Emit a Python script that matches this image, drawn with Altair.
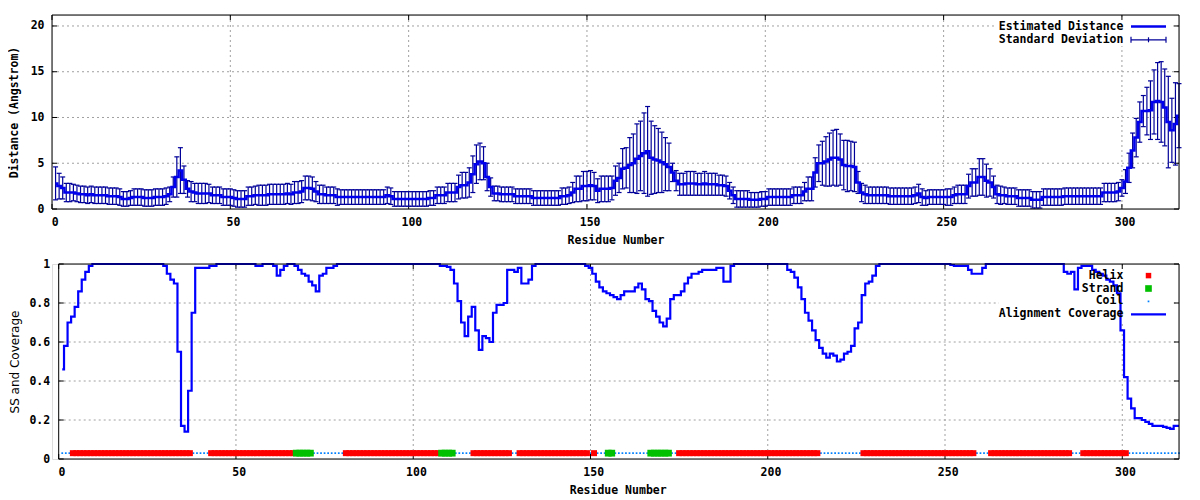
import altair as alt
import pandas as pd

# ---------------- data ----------------
RESIDUES = list(range(1, 317))

DISTANCE = [
    2.8, 2.5, 2.3, 1.8, 1.8, 1.8, 1.7, 1.6, 1.6, 1.5,
    1.6, 1.5, 1.5, 1.5, 1.5, 1.4, 1.4, 1.4, 1.3, 1.1,
    1.1, 1.2, 1.3, 1.3, 1.3, 1.2, 1.2, 1.2, 1.3, 1.3,
    1.3, 1.4, 1.6, 2.4, 3.5, 4.2, 3.2, 2.2, 1.9, 1.8,
    1.7, 1.7, 1.7, 1.7, 1.5, 1.5, 1.5, 1.3, 1.3, 1.3,
    1.2, 1.1, 1.1, 1.1, 1.4, 1.4, 1.5, 1.5, 1.5, 1.5,
    1.6, 1.6, 1.6, 1.6, 1.6, 1.7, 1.6, 1.8, 1.8, 1.9,
    2.3, 2.3, 2.2, 1.9, 1.6, 1.6, 1.5, 1.5, 1.5, 1.3,
    1.3, 1.3, 1.3, 1.3, 1.3, 1.3, 1.3, 1.3, 1.3, 1.3,
    1.3, 1.3, 1.3, 1.5, 1.4, 1.1, 1.1, 1.1, 1.1, 1.1,
    1.1, 1.1, 1.1, 1.1, 1.1, 1.2, 1.2, 1.5, 1.5, 1.5,
    1.8, 1.8, 1.8, 2.4, 2.6, 2.6, 2.9, 3.8, 4.9, 5.2,
    5.0, 3.5, 2.4, 1.7, 1.7, 1.6, 1.6, 1.6, 1.6, 1.4,
    1.4, 1.4, 1.4, 1.4, 1.2, 1.2, 1.2, 1.2, 1.2, 1.2,
    1.2, 1.2, 1.4, 1.4, 1.5, 1.8, 2.2, 2.2, 2.5, 2.5,
    2.6, 2.5, 2.0, 2.2, 2.2, 2.2, 2.3, 3.1, 3.4, 4.4,
    4.5, 4.8, 5.0, 5.5, 5.8, 6.1, 6.3, 5.6, 5.4, 5.3,
    5.1, 4.9, 4.6, 4.0, 3.1, 2.7, 2.7, 2.8, 2.8, 2.8,
    2.7, 2.7, 2.8, 2.7, 2.7, 2.7, 2.6, 2.6, 2.5, 2.0,
    1.5, 1.1, 1.1, 1.1, 1.1, 1.0, 1.0, 1.0, 1.1, 1.1,
    1.3, 1.3, 1.3, 1.3, 1.3, 1.3, 1.3, 1.5, 1.5, 1.5,
    1.9, 2.2, 2.2, 4.0, 5.0, 5.0, 5.2, 5.4, 5.6, 5.6,
    5.4, 4.8, 4.7, 4.7, 4.6, 2.9, 1.8, 1.6, 1.5, 1.5,
    1.5, 1.5, 1.5, 1.5, 1.4, 1.4, 1.4, 1.4, 1.4, 1.4,
    1.4, 1.5, 1.7, 1.3, 1.2, 1.3, 1.3, 1.3, 1.3, 1.3,
    1.3, 1.3, 1.5, 1.6, 1.6, 1.6, 2.5, 2.9, 2.9, 3.5,
    3.5, 3.1, 2.9, 2.4, 1.6, 1.5, 1.5, 1.4, 1.4, 1.4,
    1.2, 1.2, 1.2, 1.2, 1.0, 1.0, 1.0, 1.3, 1.3, 1.3,
    1.3, 1.3, 1.3, 1.4, 1.4, 1.4, 1.4, 1.4, 1.4, 1.4,
    1.4, 1.4, 1.4, 1.4, 1.8, 1.8, 1.8, 1.8, 1.9, 2.3,
    3.0, 4.5, 6.4, 7.8, 9.5, 10.7, 10.7, 10.8, 11.7, 11.8,
    11.7, 11.1, 9.5, 8.6, 9.3, 10.2,
]

STD_DEV = [
    1.8, 1.4, 1.2, 1.0, 1.0, 0.9, 0.9, 0.9, 0.9, 0.9,
    0.9, 0.9, 0.9, 0.9, 0.9, 0.9, 0.9, 0.9, 0.9, 0.8,
    0.8, 0.8, 0.9, 0.9, 0.9, 0.9, 0.9, 0.9, 0.9, 0.9,
    0.9, 0.9, 0.8, 1.1, 2.2, 2.5, 1.5, 0.9, 1.1, 1.0,
    1.1, 1.1, 1.1, 1.0, 0.9, 0.9, 0.9, 0.9, 0.9, 0.9,
    0.9, 0.9, 0.9, 0.9, 1.0, 1.0, 1.0, 1.1, 1.1, 1.1,
    1.1, 1.1, 1.1, 1.1, 1.1, 1.1, 1.1, 1.2, 1.2, 1.2,
    1.3, 1.3, 1.3, 1.1, 1.0, 1.0, 0.9, 0.9, 0.9, 0.9,
    0.8, 0.8, 0.8, 0.8, 0.8, 0.8, 0.8, 0.8, 0.8, 0.8,
    0.8, 0.8, 0.8, 0.9, 0.9, 0.8, 0.8, 0.8, 0.8, 0.8,
    0.8, 0.8, 0.8, 0.8, 0.8, 0.8, 0.8, 0.9, 0.9, 0.9,
    1.0, 1.0, 1.0, 1.3, 1.4, 1.4, 1.6, 2.0, 2.1, 2.0,
    1.8, 1.5, 1.0, 0.8, 0.8, 0.8, 0.8, 0.8, 0.8, 0.8,
    0.8, 0.8, 0.8, 0.8, 0.8, 0.8, 0.8, 0.8, 0.8, 0.8,
    0.8, 0.8, 0.9, 0.9, 0.9, 1.1, 1.4, 1.4, 1.6, 1.6,
    1.6, 1.5, 1.3, 1.4, 1.4, 1.4, 1.3, 1.6, 1.6, 2.2,
    2.2, 3.0, 3.2, 3.8, 3.8, 4.4, 4.9, 4.0, 3.7, 3.5,
    3.3, 2.9, 2.6, 1.0, 1.1, 1.2, 1.2, 1.3, 1.3, 1.3,
    1.2, 1.2, 1.3, 1.2, 1.2, 1.2, 1.1, 1.1, 1.1, 0.9,
    0.9, 0.9, 0.9, 0.9, 0.9, 0.8, 0.8, 0.8, 0.8, 0.8,
    0.9, 0.9, 0.9, 0.9, 0.9, 0.9, 0.9, 0.9, 0.9, 0.9,
    1.0, 1.3, 1.3, 1.6, 2.0, 2.4, 2.7, 2.9, 3.0, 3.1,
    2.8, 2.7, 2.8, 2.7, 2.7, 1.2, 1.0, 1.0, 0.9, 0.9,
    0.9, 0.9, 0.9, 0.9, 0.9, 0.9, 0.9, 0.9, 0.9, 0.9,
    0.9, 0.9, 1.0, 0.9, 0.8, 0.8, 0.8, 0.8, 0.8, 0.8,
    0.9, 0.9, 0.9, 1.0, 1.0, 1.0, 1.3, 1.5, 1.5, 2.0,
    2.0, 1.8, 1.5, 1.2, 1.0, 1.0, 0.9, 0.9, 0.9, 0.9,
    0.9, 0.9, 0.9, 0.9, 0.9, 0.9, 0.9, 0.9, 0.9, 0.9,
    0.9, 0.9, 0.9, 0.9, 0.9, 0.9, 0.9, 0.9, 0.9, 0.9,
    0.9, 0.9, 0.9, 0.9, 1.0, 1.0, 1.0, 1.0, 1.0, 0.9,
    1.3, 1.6, 1.9, 2.1, 2.2, 1.7, 2.6, 3.2, 3.5, 4.2,
    4.4, 4.2, 5.0, 3.5, 4.5, 3.5,
]

COVERAGE = [
    0.46, 0.58, 0.70, 0.73, 0.78, 0.86, 0.92, 0.96, 0.99, 1.0,
    1.0, 1.0, 1.0, 1.0, 1.0, 1.0, 1.0, 1.0, 1.0, 1.0,
    1.0, 1.0, 1.0, 1.0, 1.0, 1.0, 1.0, 1.0, 1.0, 0.99,
    0.95, 0.92, 0.90, 0.55, 0.17, 0.14, 0.35, 0.75, 0.98, 0.98,
    0.98, 0.98, 0.99, 0.99, 1.0, 1.0, 1.0, 1.0, 1.0, 1.0,
    1.0, 1.0, 1.0, 1.0, 1.0, 0.99, 0.99, 1.0, 1.0, 1.0,
    0.99, 0.94, 0.97, 0.99, 1.0, 1.0, 0.99, 0.97, 0.95, 0.94,
    0.91, 0.89, 0.86, 0.94, 0.95, 0.98, 0.98, 0.99, 1.0, 1.0,
    1.0, 1.0, 1.0, 1.0, 1.0, 1.0, 1.0, 1.0, 1.0, 1.0,
    1.0, 1.0, 1.0, 1.0, 1.0, 1.0, 1.0, 1.0, 1.0, 1.0,
    1.0, 1.0, 1.0, 1.0, 1.0, 1.0, 1.0, 0.99, 0.99, 0.985,
    0.97, 0.90, 0.81, 0.70, 0.63, 0.73, 0.78, 0.66, 0.56, 0.63,
    0.62, 0.60, 0.75, 0.79, 0.79, 0.80, 0.97, 0.97, 0.96, 0.98,
    0.90, 0.90, 0.92, 0.99, 1.0, 1.0, 1.0, 1.0, 1.0, 1.0,
    1.0, 1.0, 1.0, 1.0, 1.0, 1.0, 1.0, 1.0, 0.99, 0.98,
    0.95, 0.91, 0.88, 0.86, 0.85, 0.84, 0.83, 0.82, 0.84, 0.86,
    0.86, 0.86, 0.88, 0.90, 0.87, 0.82, 0.81, 0.76, 0.73, 0.70,
    0.68, 0.72, 0.82, 0.84, 0.84, 0.86, 0.90, 0.93, 0.95, 0.95,
    0.96, 0.97, 0.97, 0.97, 0.97, 0.98, 0.98, 0.91, 0.91, 0.99,
    1.0, 1.0, 1.0, 1.0, 1.0, 1.0, 1.0, 1.0, 1.0, 1.0,
    1.0, 1.0, 1.0, 1.0, 1.0, 0.97, 0.96, 0.93, 0.88, 0.82,
    0.75, 0.71, 0.66, 0.61, 0.57, 0.54, 0.52, 0.54, 0.53, 0.50,
    0.51, 0.54, 0.55, 0.58, 0.67, 0.70, 0.84, 0.90, 0.91, 0.94,
    0.99, 1.0, 1.0, 1.0, 1.0, 1.0, 1.0, 1.0, 1.0, 1.0,
    1.0, 1.0, 1.0, 1.0, 1.0, 1.0, 1.0, 1.0, 1.0, 1.0,
    1.0, 0.995, 0.99, 0.99, 0.99, 0.99, 0.97, 0.95, 0.95, 0.95,
    0.98, 1.0, 1.0, 1.0, 1.0, 1.0, 1.0, 1.0, 1.0, 1.0,
    1.0, 1.0, 1.0, 1.0, 1.0, 1.0, 1.0, 1.0, 1.0, 1.0,
    1.0, 1.0, 1.0, 0.96, 0.95, 0.96, 0.87, 0.98, 0.99, 0.99,
    0.99, 0.97, 0.96, 0.95, 0.94, 0.92, 0.91, 0.89, 0.85, 0.66,
    0.42, 0.31, 0.26, 0.21, 0.21, 0.20, 0.19, 0.18, 0.17, 0.17,
    0.17, 0.165, 0.16, 0.155, 0.17, 0.17,
]

HELIX_SEGMENTS = [(4, 37), (43, 66), (81, 107), (117, 127), (130, 149), (151, 151),
                  (175, 214), (227, 258), (263, 285), (289, 301)]
STRAND_SEGMENTS = [(67, 71), (108, 111), (155, 156), (167, 172)]
SS_LEVEL = 0.03

X_TICKS = [0, 50, 100, 150, 200, 250, 300]
X_GRID = [50, 100, 150, 200, 250, 300]
TOP_Y_TICKS = [0, 5, 10, 15, 20]
TOP_Y_GRID = [5, 10, 15, 20]
BOT_Y_TICKS = [0, 0.2, 0.4, 0.6, 0.8, 1]
BOT_Y_GRID = [0.2, 0.4, 0.6, 0.8]
TOP_LEGEND = ["Estimated Distance", "Standard Deviation"]
BOT_LEGEND = ["Helix", "Strand", "Coil", "Alignment Coverage"]
X_TITLE = "Residue Number"
TOP_Y_TITLE = "Distance (Angstrom)"
BOT_Y_TITLE = "SS and Coverage"

# ---------------- tables ----------------
dist_df = pd.DataFrame({"res": RESIDUES, "dist": DISTANCE, "sd": STD_DEV})
dist_df["lo"] = (dist_df["dist"] - dist_df["sd"]).clip(lower=0)
dist_df["hi"] = dist_df["dist"] + dist_df["sd"]

cov_df = pd.DataFrame({"res": RESIDUES, "cov": COVERAGE})

ss = ["Coil"] * len(RESIDUES)
for a, b in HELIX_SEGMENTS:
    for r in range(a, b + 1):
        ss[r - 1] = "Helix"
for a, b in STRAND_SEGMENTS:
    for r in range(a, b + 1):
        ss[r - 1] = "Strand"
ss_df = pd.DataFrame({"res": RESIDUES, "ss": ss, "level": [SS_LEVEL] * len(RESIDUES)})

one = pd.DataFrame({"k": [0]})

# ---------------- style ----------------
MONO = "DejaVu Sans Mono"
FS = 11.5
W = 1127
HT = 194
HB = 195
BOT_X0 = 6.7
GRID_COLOR = "#a0a0a0"
LINE_BLUE = "#0000ee"
BAR_NAVY = "#000099"


def x_axis(title_x):
    return alt.Axis(values=X_TICKS, grid=False, domain=False, ticks=False, tickSize=0,
                    labelFont=MONO, labelFontWeight="bold", labelFontSize=FS,
                    labelColor="black", labelPadding=13.7, labelBaseline="middle",
                    labelOffset=2.7, labelFlush=False, labelOverlap=False,
                    title=X_TITLE, titleFont=MONO, titleFontWeight="bold",
                    titleFontSize=FS, titleColor="black", titleX=title_x,
                    titleY=31.7, titleBaseline="middle", titleAlign="center")


AX_X_TOP = x_axis(563.5)
AX_X_BOT = x_axis(565.7)

AX_Y_TOP = alt.Axis(values=TOP_Y_TICKS, grid=False, domain=False, ticks=False, tickSize=0,
                    labelFont=MONO, labelFontWeight="bold", labelFontSize=FS,
                    labelColor="black", labelPadding=8, labelFlush=False,
                    labelOverlap=False, title=TOP_Y_TITLE, titleFont=MONO,
                    titleFontWeight="bold", titleFontSize=FS, titleColor="black",
                    titleAngle=270, titleX=-37.5, titleY=HT / 2,
                    titleBaseline="middle", titleAlign="center")

AX_Y_BOT = alt.Axis(values=BOT_Y_TICKS, format="~g", grid=False, domain=False, ticks=False,
                    tickSize=0, labelFont=MONO, labelFontWeight="bold", labelFontSize=FS,
                    labelColor="black", labelPadding=2.3, labelFlush=False,
                    labelOverlap=False, title=BOT_Y_TITLE, titleFont="DejaVu Sans",
                    titleFontWeight="normal", titleFontSize=12, titleColor="black",
                    titleAngle=270, titleX=-37.5, titleY=HB / 2,
                    titleBaseline="middle", titleAlign="center")

XS_TOP = alt.Scale(domain=[0, 316], nice=False, zero=False)
YS_TOP = alt.Scale(domain=[0, 21.2], nice=False, zero=False)
XS_BOT = alt.Scale(domain=[0, 316], nice=False, zero=False, range=[BOT_X0, W])
YS_BOT = alt.Scale(domain=[0, 1], nice=False, zero=False)


def xt(field):
    return alt.X(field, scale=XS_TOP, axis=AX_X_TOP)


def yt(field):
    return alt.Y(field, scale=YS_TOP, axis=AX_Y_TOP)


def xb(field):
    return alt.X(field, scale=XS_BOT, axis=AX_X_BOT)


def yb(field):
    return alt.Y(field, scale=YS_BOT, axis=AX_Y_BOT)


dash = dict(stroke=GRID_COLOR, strokeWidth=1, strokeDash=[2, 3])

# ---------------- top panel ----------------
xg_top = pd.DataFrame({"v": X_GRID})
yg_top = pd.DataFrame({"v": TOP_Y_GRID})
xt_df = pd.DataFrame({"v": X_TICKS})
yt_top_df = pd.DataFrame({"v": TOP_Y_TICKS})

top_layers = [
    alt.Chart(xg_top).mark_rule(**dash).encode(x=xt("v:Q"), y=alt.value(0), y2=alt.value(HT)),
    alt.Chart(yg_top).mark_rule(**dash).encode(y=yt("v:Q"), x=alt.value(0), x2=alt.value(W)),
    alt.Chart(one).mark_rect(color="white").encode(
        x=alt.value(944), x2=alt.value(1121), y=alt.value(4), y2=alt.value(31)),
    # inward ticks
    alt.Chart(xt_df).mark_rule(color="black").encode(x=xt("v:Q"), y=alt.value(HT), y2=alt.value(HT - 5)),
    alt.Chart(xt_df).mark_rule(color="black").encode(x=xt("v:Q"), y=alt.value(0), y2=alt.value(5)),
    alt.Chart(yt_top_df).mark_rule(color="black").encode(y=yt("v:Q"), x=alt.value(0), x2=alt.value(5)),
    alt.Chart(yt_top_df).mark_rule(color="black").encode(y=yt("v:Q"), x=alt.value(W - 5), x2=alt.value(W)),
    # error bars
    alt.Chart(dist_df).mark_rule(color=BAR_NAVY, strokeWidth=1.2).encode(
        x=xt("res:Q"), y=yt("lo:Q"), y2="hi:Q"),
    alt.Chart(dist_df).mark_rule(color=BAR_NAVY, strokeWidth=1.2, xOffset=-2.5, x2Offset=2.5).encode(
        x=xt("res:Q"), x2="res:Q", y=yt("hi:Q")),
    alt.Chart(dist_df).mark_rule(color=BAR_NAVY, strokeWidth=1.2, xOffset=-2.5, x2Offset=2.5).encode(
        x=xt("res:Q"), x2="res:Q", y=yt("lo:Q")),
    # distance line
    alt.Chart(dist_df).mark_line(color=LINE_BLUE, strokeWidth=2.5, interpolate="step").encode(
        x=xt("res:Q"), y=yt("dist:Q")),
]

# top legend
for i, label in enumerate(TOP_LEGEND):
    top_layers.append(
        alt.Chart(pd.DataFrame({"label": [label]})).mark_text(
            font=MONO, fontWeight="bold", fontSize=FS, align="right", baseline="middle",
            color="black").encode(x=alt.value(1071.4), y=alt.value(11.6 + 13.2 * i), text="label:N"))
top_layers += [
    alt.Chart(one).mark_rule(color=LINE_BLUE, strokeWidth=2.5).encode(
        x=alt.value(1079), x2=alt.value(1114), y=alt.value(11.6)),
    alt.Chart(one).mark_rule(color=BAR_NAVY, strokeWidth=1.2).encode(
        x=alt.value(1079), x2=alt.value(1114), y=alt.value(24.8)),
    alt.Chart(one).mark_rule(color=BAR_NAVY, strokeWidth=1.2).encode(
        x=alt.value(1079), y=alt.value(21.8), y2=alt.value(27.8)),
    alt.Chart(one).mark_rule(color=BAR_NAVY, strokeWidth=1.2).encode(
        x=alt.value(1114), y=alt.value(21.8), y2=alt.value(27.8)),
    alt.Chart(one).mark_rule(color=BAR_NAVY, strokeWidth=1.2).encode(
        x=alt.value(1096.5), y=alt.value(22.3), y2=alt.value(27.3)),
    # frame
    alt.Chart(one).mark_rect(fillOpacity=0, stroke="black", strokeWidth=1).encode(
        x=alt.value(0), x2=alt.value(W), y=alt.value(0), y2=alt.value(HT)),
]

top = alt.layer(*top_layers).properties(width=W, height=HT)

# ---------------- bottom panel ----------------
yg_bot = pd.DataFrame({"v": BOT_Y_GRID})
yt_bot_df = pd.DataFrame({"v": BOT_Y_TICKS})

bot_layers = [
    alt.Chart(xg_top).mark_rule(**dash).encode(x=xb("v:Q"), y=alt.value(0), y2=alt.value(HB)),
    alt.Chart(yg_bot).mark_rule(**dash).encode(y=yb("v:Q"), x=alt.value(BOT_X0), x2=alt.value(W)),
    alt.Chart(one).mark_rect(color="white").encode(
        x=alt.value(947), x2=alt.value(1121), y=alt.value(4), y2=alt.value(57)),
    alt.Chart(xt_df).mark_rule(color="black").encode(x=xb("v:Q"), y=alt.value(HB), y2=alt.value(HB - 5)),
    alt.Chart(xt_df).mark_rule(color="black").encode(x=xb("v:Q"), y=alt.value(0), y2=alt.value(5)),
    alt.Chart(yt_bot_df).mark_rule(color="black").encode(
        y=yb("v:Q"), x=alt.value(BOT_X0), x2=alt.value(BOT_X0 + 5)),
    alt.Chart(yt_bot_df).mark_rule(color="black").encode(y=yb("v:Q"), x=alt.value(W - 5), x2=alt.value(W)),
    # secondary structure
    alt.Chart(ss_df).transform_filter(alt.datum.ss == "Coil").mark_square(
        color="#0080ff", size=3, opacity=1).encode(x=xb("res:Q"), y=yb("level:Q")),
    alt.Chart(ss_df).transform_filter(alt.datum.ss == "Helix").mark_square(
        color="#ff0000", size=36, opacity=1).encode(x=xb("res:Q"), y=yb("level:Q")),
    alt.Chart(ss_df).transform_filter(alt.datum.ss == "Strand").mark_square(
        color="#00c000", size=46, opacity=1).encode(x=xb("res:Q"), y=yb("level:Q")),
    # coverage
    alt.Chart(cov_df).mark_line(color="#0000ff", strokeWidth=2.2, interpolate="step").encode(
        x=xb("res:Q"), y=yb("cov:Q")),
]

for i, label in enumerate(BOT_LEGEND):
    bot_layers.append(
        alt.Chart(pd.DataFrame({"label": [label]})).mark_text(
            font=MONO, fontWeight="bold", fontSize=FS, align="right", baseline="middle",
            color="black").encode(x=alt.value(1071.4), y=alt.value(11.6 + 12.9 * i), text="label:N"))
bot_layers += [
    alt.Chart(one).mark_square(color="#ff0000", size=30, opacity=1).encode(
        x=alt.value(1096.5), y=alt.value(11.6)),
    alt.Chart(one).mark_square(color="#00c000", size=44, opacity=1).encode(
        x=alt.value(1096.5), y=alt.value(24.5)),
    alt.Chart(one).mark_square(color="#0080ff", size=3, opacity=1).encode(
        x=alt.value(1096.5), y=alt.value(37.4)),
    alt.Chart(one).mark_rule(color="#0000ff", strokeWidth=2.2).encode(
        x=alt.value(1079), x2=alt.value(1114), y=alt.value(50.3)),
    alt.Chart(one).mark_rect(fillOpacity=0, stroke="black", strokeWidth=1).encode(
        x=alt.value(BOT_X0), x2=alt.value(W), y=alt.value(0), y2=alt.value(HB)),
]

bottom = alt.layer(*bot_layers).properties(width=W, height=HB)

chart = alt.vconcat(top, bottom, spacing=55, bounds="flush").properties(
    padding={"left": 0, "top": 6, "right": 4, "bottom": 0}
).configure_view(stroke=None).configure(background="white")

chart.save("out.html", embed_options={"renderer": "svg", "actions": False})
